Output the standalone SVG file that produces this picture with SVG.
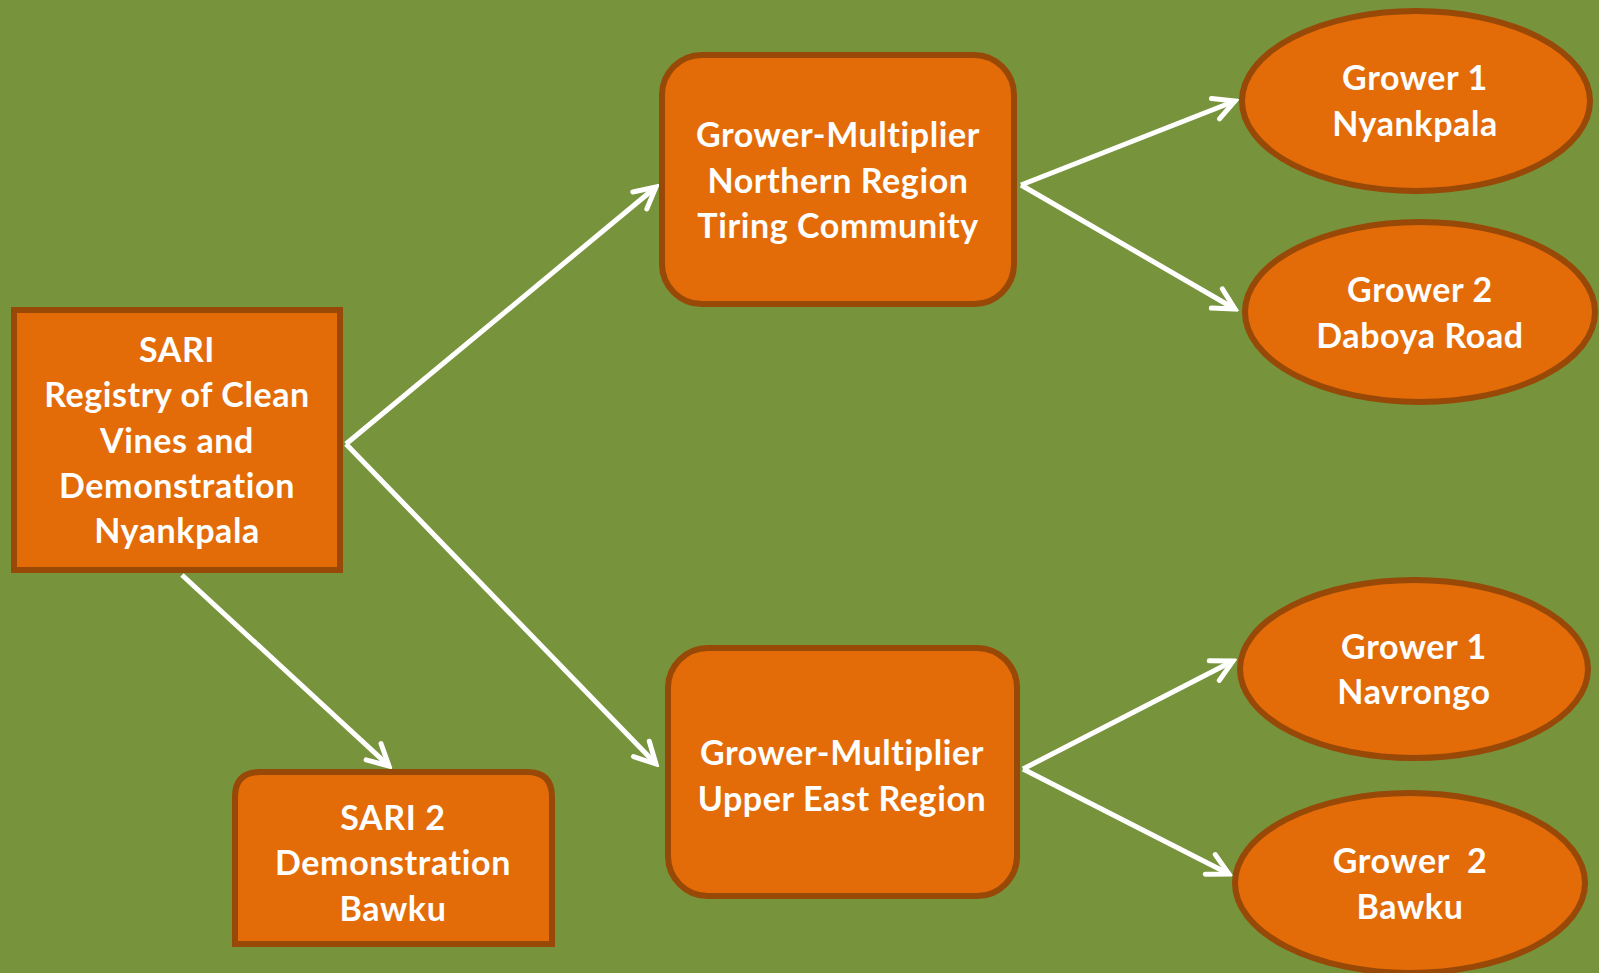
<svg xmlns="http://www.w3.org/2000/svg" width="1599" height="973" viewBox="0 0 1599 973">
<style>
.node{fill:#E36C09;stroke:#984807;stroke-width:6}
.lbl{font-family:Lato,"Open Sans","Liberation Sans",sans-serif;font-weight:bold;font-size:34px;letter-spacing:0.6px;fill:#FFFFFF;text-anchor:middle}
.conn{stroke:#FFFFFF;stroke-width:5;fill:none;marker-end:url(#arr)}
</style>
<defs>
<marker id="arr" markerUnits="userSpaceOnUse" viewBox="-30 -16 34 32" refX="0" refY="0" markerWidth="34" markerHeight="32" orient="auto">
<path d="M -21 -11 L 0 0 L -21 11" fill="none" stroke="#FFFFFF" stroke-width="5" stroke-linecap="round" stroke-linejoin="miter"/>
</marker>
</defs>
<rect x="0" y="0" width="1599" height="973" fill="#77933C"/>
<g id="connectors">
<line class="conn" x1="346" y1="444" x2="656" y2="187"/>
<line class="conn" x1="346" y1="444" x2="656" y2="764"/>
<line class="conn" x1="182" y1="575" x2="389" y2="766"/>
<line class="conn" x1="1021" y1="185" x2="1235" y2="101"/>
<line class="conn" x1="1021" y1="185" x2="1235" y2="309"/>
<line class="conn" x1="1023" y1="769" x2="1233" y2="661"/>
<line class="conn" x1="1023" y1="769" x2="1229" y2="874"/>
</g>
<g id="sari">
<rect class="node" x="14" y="310" width="326" height="260"/>
<text class="lbl" x="177" y="362">SARI</text>
<text class="lbl" x="177" y="407">Registry of Clean</text>
<text class="lbl" x="177" y="453">Vines and</text>
<text class="lbl" x="177" y="498">Demonstration</text>
<text class="lbl" x="177" y="543">Nyankpala</text>
</g>
<g id="gm-northern">
<rect class="node" x="662" y="55" width="352" height="249" rx="40" ry="40"/>
<text class="lbl" x="838" y="147">Grower-Multiplier</text>
<text class="lbl" x="838" y="193">Northern Region</text>
<text class="lbl" x="838" y="238">Tiring Community</text>
</g>
<g id="gm-uppereast">
<rect class="node" x="668" y="648" width="349" height="248" rx="40" ry="40"/>
<text class="lbl" x="842" y="765">Grower-Multiplier</text>
<text class="lbl" x="842" y="811">Upper East Region</text>
</g>
<g id="sari2">
<path class="node" d="M 235 944 L 235 797 Q 235 772 260 772 L 527 772 Q 552 772 552 797 L 552 944 Z"/>
<text class="lbl" x="393" y="830">SARI 2</text>
<text class="lbl" x="393" y="875">Demonstration</text>
<text class="lbl" x="393" y="921">Bawku</text>
</g>
<g id="g1-nyankpala">
<ellipse class="node" cx="1416" cy="101" rx="174" ry="90"/>
<text class="lbl" x="1415" y="90">Grower 1</text>
<text class="lbl" x="1415" y="136">Nyankpala</text>
</g>
<g id="g2-daboya">
<ellipse class="node" cx="1420" cy="312" rx="175" ry="90"/>
<text class="lbl" x="1420" y="302">Grower 2</text>
<text class="lbl" x="1420" y="348">Daboya Road</text>
</g>
<g id="g1-navrongo">
<ellipse class="node" cx="1414" cy="669" rx="174" ry="89"/>
<text class="lbl" x="1414" y="659">Grower 1</text>
<text class="lbl" x="1414" y="704">Navrongo</text>
</g>
<g id="g2-bawku">
<ellipse class="node" cx="1410" cy="883" rx="175" ry="90"/>
<text class="lbl" x="1410" y="873" xml:space="preserve">Grower  2</text>
<text class="lbl" x="1410" y="919">Bawku</text>
</g>
</svg>
